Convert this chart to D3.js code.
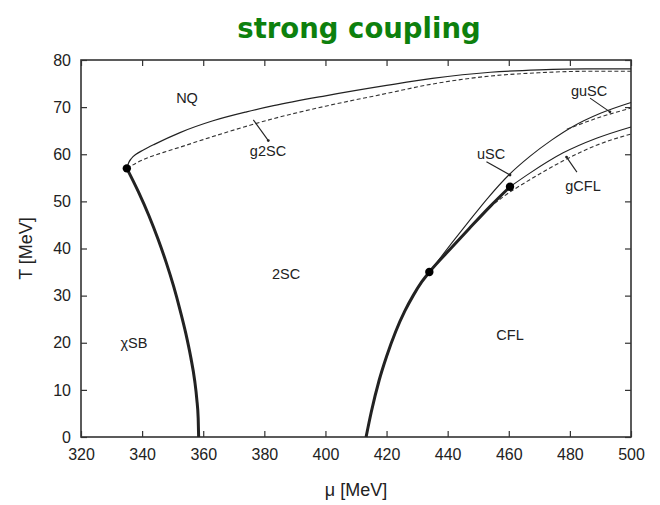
<!DOCTYPE html>
<html><head><meta charset="utf-8">
<script src="https://cdn.jsdelivr.net/npm/d3@7"></script>
<style>body{margin:0;background:#fff}</style>
</head><body>
<script>
// ---- data (μ in MeV, T in MeV) ----
const xTicks = [320,340,360,380,400,420,440,460,480,500];
const yTicks = [0,10,20,30,40,50,60,70,80];

// χSB – 2SC boundary (first order, thick)
const chiSB = [[335,57],[338.8,52],[342.2,47],[345.2,42],[347.9,37],[350.3,32],[352.4,27],[354.3,22],[355.9,17],[357.2,12],[357.9,8],[358.35,4],[358.5,0]];
// NQ – 2SC boundary (solid)
const nq2sc = [[335,57],[335.6,58.2],[336.5,59.1],[338,60],[340.4,60.9],[344,62.1],[352.4,64.6],[363.2,67.1],[374.2,69],[383,70.3],[400,72.4],[420,74.6],[435,76.1],[454,77.4],[470,77.9],[485,78.1],[500,78.1]];
// g2SC (dashed)
const g2sc = [[335,57],[338,58.1],[342,59.3],[347,60.4],[352.4,61.5],[360,63.1],[368.8,64.9],[385,67.9],[400,70.2],[420,72.9],[435,74.9],[454,76.6],[470,77.3],[485,77.6],[500,77.6]];
// 2SC – CFL boundary (thick)
const cfl = [[413.3,0],[415,5.3],[417.6,12.1],[420,17.1],[423,22.4],[426,26.75],[428.7,30],[431.5,32.9],[434,35],[441,40],[447,44.2],[454,49],[460.4,53.1]];
// 2SC – uSC boundary (thin solid)
const usc = [[434,35],[441.5,41.3],[447,45.8],[453,50.6],[460,55.6],[467,59.6],[474,63],[481,65.9],[490,68.7],[500,71]];
// guSC (dashed)
const gusc = [[479,65.3],[490,67.9],[500,69.8]];
// uSC – CFL boundary (thin solid)
const uscCfl = [[460.4,53.1],[466.9,56],[477.8,60.3],[488.7,63.4],[500,65.8]];
// gCFL (dashed)
const gcfl = [[452,47.8],[458,50.9],[466.9,54.6],[477.8,58.6],[488.7,61.9],[500,64.3]];
// critical points
const points = [[335,57],[434,35],[460.4,53.1]];

// region labels
const labelText = ["NQ","g2SC","2SC","\u03C7SB","CFL","uSC","guSC","gCFL"];
const labelMu   = [354.7,381.2,387.1,337.3,460.4,454.2,486.3,484.3];
const labelT    = [71.9,60.7,34.6,19.9,21.6,60.1,73.4,53.3];
// pointer lines [μ1,T1,μ2,T2]
const pointers = [[376.4,67.3,381.3,62.9],[452.7,58.4,460.4,55.6],[486.6,71.9,493.1,69.0],[482.3,56.2,478.9,59.4]];

// ---- drawing ----
const W=660,H=505;
const m={l:81,r:29,t:60,b:68};
const svg=d3.select("body").append("svg").attr("width",W).attr("height",H);
const x=d3.scaleLinear().domain([320,500]).range([m.l,W-m.r]);
const y=d3.scaleLinear().domain([0,80]).range([H-m.b,m.t]);

svg.append("text").attr("x",359).attr("y",38).attr("text-anchor","middle")
  .attr("font-family","Verdana, 'DejaVu Sans', sans-serif").attr("font-weight","bold")
  .attr("font-size",27.5).attr("fill","#0d800d").text("strong coupling");

const tickCol="#333";
const axFont="'Liberation Sans', Arial, sans-serif";
const gx=svg.append("g").attr("transform",`translate(0,${H-m.b})`)
  .call(d3.axisBottom(x).tickValues(xTicks).tickSize(-6).tickPadding(12).tickFormat(d3.format("d")));
const gx2=svg.append("g").attr("transform",`translate(0,${m.t})`)
  .call(d3.axisTop(x).tickValues(xTicks).tickSize(-6).tickFormat(""));
const gy=svg.append("g").attr("transform",`translate(${m.l},0)`)
  .call(d3.axisLeft(y).tickValues(yTicks).tickSize(-6).tickPadding(10).tickFormat(d3.format("d")));
const gy2=svg.append("g").attr("transform",`translate(${W-m.r},0)`)
  .call(d3.axisRight(y).tickValues(yTicks).tickSize(-6).tickFormat(""));
[gx,gx2,gy,gy2].forEach(g=>{
  g.select(".domain").remove();
  g.selectAll(".tick line").attr("stroke",tickCol).attr("stroke-width",1.2);
  g.selectAll("text").attr("font-family",axFont).attr("font-size",16).attr("fill","#222");
});
svg.append("rect").attr("x",m.l).attr("y",m.t).attr("width",W-m.r-m.l).attr("height",H-m.b-m.t)
  .attr("fill","none").attr("stroke","#333").attr("stroke-width",1.6);

svg.append("text").attr("transform",`translate(32,${(m.t+H-m.b)/2}) rotate(-90)`)
  .attr("text-anchor","middle").attr("font-family",axFont).attr("font-size",18).attr("fill","#222").text("T [MeV]");
svg.append("text").attr("x",(m.l+W-m.r)/2).attr("y",496).attr("text-anchor","middle")
  .attr("font-family",axFont).attr("font-size",18).attr("fill","#222").text("\u03BC [MeV]");

const line=d3.line().x(d=>x(d[0])).y(d=>y(d[1])).curve(d3.curveMonotoneX);
const plot=svg.append("g");
function draw(data,w,dash,col){
  plot.append("path").attr("d",line(data)).attr("fill","none").attr("stroke",col||"#222")
    .attr("stroke-width",w).attr("stroke-dasharray",dash||null).attr("stroke-linejoin","round");
}
draw(nq2sc,1.2);
draw(g2sc,1.1,"4,2.5","#333");
draw(usc,1.1);
draw(gusc,1.1,"4,2.5","#333");
draw(uscCfl,1.1);
draw(gcfl,1.1,"4,2.5","#333");
draw(chiSB,3);
draw(cfl,3);
plot.selectAll("circle.pt").data(points).join("circle").attr("class","pt")
  .attr("cx",d=>x(d[0])).attr("cy",d=>y(d[1])).attr("r",4.2).attr("fill","#000");

plot.selectAll("line.ptr").data(pointers).join("line").attr("class","ptr")
  .attr("x1",d=>x(d[0])).attr("y1",d=>y(d[1])).attr("x2",d=>x(d[2])).attr("y2",d=>y(d[3]))
  .attr("stroke","#222").attr("stroke-width",1.1);
plot.selectAll("circle.tip").data(pointers).join("circle").attr("class","tip")
  .attr("cx",d=>x(d[2])).attr("cy",d=>y(d[3])).attr("r",1.4).attr("fill","#222");

plot.selectAll("text.lbl").data(labelText).join("text").attr("class","lbl")
  .attr("x",(d,i)=>x(labelMu[i])).attr("y",(d,i)=>y(labelT[i])).attr("dy","0.35em")
  .attr("text-anchor","middle").attr("font-family",axFont).attr("font-size",14.5).attr("fill","#222")
  .text(d=>d);
</script>
</body></html>
